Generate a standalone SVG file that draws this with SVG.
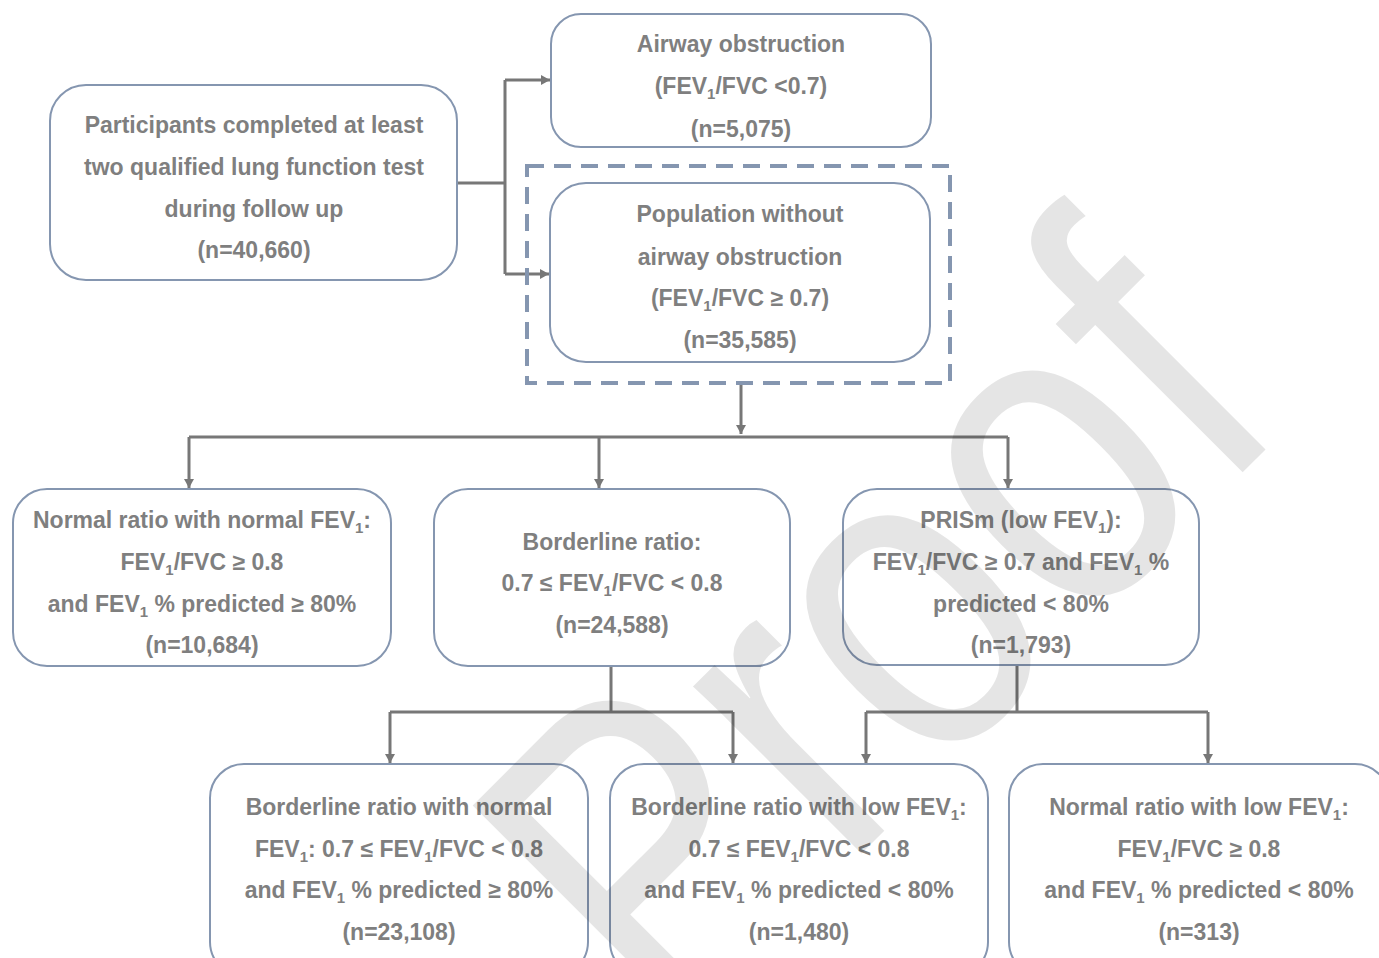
<svg xmlns="http://www.w3.org/2000/svg" width="1379" height="958" viewBox="0 0 1379 958">
<style>
.box{fill:#fff;stroke:#8596b0;stroke-width:2}
.dash{fill:none;stroke:#8596b0;stroke-width:4;stroke-dasharray:17 10}
.t{font-family:"Liberation Sans",Arial,sans-serif;font-weight:bold;font-size:23px;fill:#7f7f7f;text-anchor:middle}
.s{font-size:15px}
.c{fill:none;stroke:#777;stroke-width:3}
.wm{font-family:"Liberation Sans",Arial,sans-serif;font-size:449px;fill:#000;fill-opacity:0.1;text-anchor:end}
</style>
<defs>
<marker id="ah" markerUnits="userSpaceOnUse" markerWidth="10" markerHeight="10" refX="9" refY="5" orient="auto">
<path d="M0,0 L9,5 L0,10 z" fill="#777"/>
</marker>
</defs>
<rect width="1379" height="958" fill="#fff"/>
<g id="connectors">
<path class="c" d="M457,183 H505 M505,80 V274"/>
<path class="c" d="M505,80 H550" marker-end="url(#ah)"/>
<path class="c" d="M505,274 H549" marker-end="url(#ah)"/>
<path class="c" d="M741,383 V434" marker-end="url(#ah)"/>
<path class="c" d="M189,437 H1008"/>
<path class="c" d="M189,437 V488" marker-end="url(#ah)"/>
<path class="c" d="M599,437 V488" marker-end="url(#ah)"/>
<path class="c" d="M1008,437 V488" marker-end="url(#ah)"/>
<path class="c" d="M611,666 V712 M390,712 H733"/>
<path class="c" d="M390,712 V763" marker-end="url(#ah)"/>
<path class="c" d="M733,712 V763" marker-end="url(#ah)"/>
<path class="c" d="M1017,665 V712 M866,712 H1208"/>
<path class="c" d="M866,712 V763" marker-end="url(#ah)"/>
<path class="c" d="M1208,712 V763" marker-end="url(#ah)"/>
</g>
<g id="n-participants">
<rect class="box" x="50" y="85" width="407" height="195" rx="36"/>
<text class="t" x="254" y="133">Participants completed at least</text>
<text class="t" x="254" y="175">two qualified lung function test</text>
<text class="t" x="254" y="217">during follow up</text>
<text class="t" x="254" y="258">(n=40,660)</text>
</g>
<g id="n-obstruction">
<rect class="box" x="551" y="14" width="380" height="133" rx="30"/>
<text class="t" x="741" y="52">Airway obstruction</text>
<text class="t" x="741" y="94">(FEV<tspan class="s" dy="5">1</tspan><tspan dy="-5">/FVC &lt;0.7)</tspan></text>
<text class="t" x="741" y="137">(n=5,075)</text>
</g>
<g id="n-without">
<rect class="dash" x="527" y="166" width="423" height="217"/>
<rect class="box" x="550" y="183" width="380" height="179" rx="36"/>
<text class="t" x="740" y="222">Population without</text>
<text class="t" x="740" y="265">airway obstruction</text>
<text class="t" x="740" y="306">(FEV<tspan class="s" dy="5">1</tspan><tspan dy="-5">/FVC ≥ 0.7)</tspan></text>
<text class="t" x="740" y="348">(n=35,585)</text>
</g>
<g id="n-normal">
<rect class="box" x="13" y="489" width="378" height="177" rx="34"/>
<text class="t" x="202" y="528">Normal ratio with normal FEV<tspan class="s" dy="5">1</tspan><tspan dy="-5">:</tspan></text>
<text class="t" x="202" y="570">FEV<tspan class="s" dy="5">1</tspan><tspan dy="-5">/FVC ≥ 0.8</tspan></text>
<text class="t" x="202" y="612">and FEV<tspan class="s" dy="5">1</tspan><tspan dy="-5"> % predicted ≥ 80%</tspan></text>
<text class="t" x="202" y="653">(n=10,684)</text>
</g>
<g id="n-borderline">
<rect class="box" x="434" y="489" width="356" height="177" rx="34"/>
<text class="t" x="612" y="550">Borderline ratio:</text>
<text class="t" x="612" y="591">0.7 ≤ FEV<tspan class="s" dy="5">1</tspan><tspan dy="-5">/FVC &lt; 0.8</tspan></text>
<text class="t" x="612" y="633">(n=24,588)</text>
</g>
<g id="n-prism">
<rect class="box" x="843" y="489" width="356" height="176" rx="34"/>
<text class="t" x="1021" y="528">PRISm (low FEV<tspan class="s" dy="5">1</tspan><tspan dy="-5">):</tspan></text>
<text class="t" x="1021" y="570">FEV<tspan class="s" dy="5">1</tspan><tspan dy="-5">/FVC ≥ 0.7 and FEV</tspan><tspan class="s" dy="5">1</tspan><tspan dy="-5"> %</tspan></text>
<text class="t" x="1021" y="612">predicted &lt; 80%</text>
<text class="t" x="1021" y="653">(n=1,793)</text>
</g>
<g id="n-border-normal">
<rect class="box" x="210" y="764" width="378" height="212" rx="34"/>
<text class="t" x="399" y="815">Borderline ratio with normal</text>
<text class="t" x="399" y="857">FEV<tspan class="s" dy="5">1</tspan><tspan dy="-5">: 0.7 ≤ FEV</tspan><tspan class="s" dy="5">1</tspan><tspan dy="-5">/FVC &lt; 0.8</tspan></text>
<text class="t" x="399" y="898">and FEV<tspan class="s" dy="5">1</tspan><tspan dy="-5"> % predicted ≥ 80%</tspan></text>
<text class="t" x="399" y="940">(n=23,108)</text>
</g>
<g id="n-border-low">
<rect class="box" x="610" y="764" width="378" height="212" rx="34"/>
<text class="t" x="799" y="815">Borderline ratio with low FEV<tspan class="s" dy="5">1</tspan><tspan dy="-5">:</tspan></text>
<text class="t" x="799" y="857">0.7 ≤ FEV<tspan class="s" dy="5">1</tspan><tspan dy="-5">/FVC &lt; 0.8</tspan></text>
<text class="t" x="799" y="898">and FEV<tspan class="s" dy="5">1</tspan><tspan dy="-5"> % predicted &lt; 80%</tspan></text>
<text class="t" x="799" y="940">(n=1,480)</text>
</g>
<g id="n-normal-low">
<rect class="box" x="1009" y="764" width="380" height="212" rx="34"/>
<text class="t" x="1199" y="815">Normal ratio with low FEV<tspan class="s" dy="5">1</tspan><tspan dy="-5">:</tspan></text>
<text class="t" x="1199" y="857">FEV<tspan class="s" dy="5">1</tspan><tspan dy="-5">/FVC ≥ 0.8</tspan></text>
<text class="t" x="1199" y="898">and FEV<tspan class="s" dy="5">1</tspan><tspan dy="-5"> % predicted &lt; 80%</tspan></text>
<text class="t" x="1199" y="940">(n=313)</text>
</g>
<text class="wm" x="0" y="0" transform="translate(1292,423) rotate(-45) scale(0.82,1)">Proof</text>
</svg>
